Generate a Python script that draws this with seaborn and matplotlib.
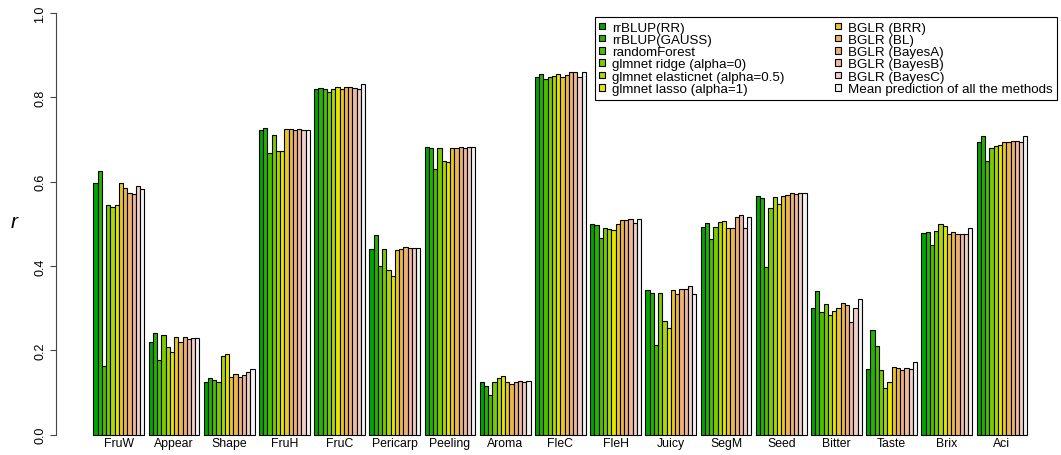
import matplotlib
matplotlib.use("Agg")
import matplotlib.pyplot as plt
from matplotlib.patches import Patch
import pandas as pd
import seaborn as sns

traits = ["FruW", "Appear", "Shape", "FruH", "FruC", "Pericarp", "Peeling", "Aroma",
          "FleC", "FleH", "Juicy", "SegM", "Seed", "Bitter", "Taste", "Brix", "Aci"]

methods = ["rrBLUP(RR)", "rrBLUP(GAUSS)", "randomForest", "glmnet ridge (alpha=0)",
           "glmnet elasticnet (alpha=0.5)", "glmnet lasso (alpha=1)", "BGLR (BRR)",
           "BGLR (BL)", "BGLR (BayesA)", "BGLR (BayesB)", "BGLR (BayesC)",
           "Mean prediction of all the methods"]

# prediction accuracy (r) per method, one value per trait
rrblup_rr     = [0.596, 0.219, 0.124, 0.722, 0.819, 0.440, 0.682, 0.124, 0.849, 0.500, 0.343, 0.492, 0.567, 0.301, 0.156, 0.479, 0.695]
rrblup_gauss  = [0.625, 0.241, 0.135, 0.728, 0.823, 0.474, 0.681, 0.116, 0.855, 0.497, 0.337, 0.501, 0.561, 0.341, 0.249, 0.481, 0.709]
random_forest = [0.162, 0.177, 0.129, 0.667, 0.820, 0.401, 0.630, 0.095, 0.843, 0.467, 0.213, 0.463, 0.398, 0.292, 0.210, 0.450, 0.650]
glmnet_ridge  = [0.545, 0.236, 0.124, 0.711, 0.813, 0.440, 0.679, 0.124, 0.849, 0.490, 0.337, 0.493, 0.538, 0.311, 0.154, 0.483, 0.679]
glmnet_enet   = [0.540, 0.207, 0.187, 0.673, 0.820, 0.391, 0.649, 0.135, 0.851, 0.488, 0.270, 0.505, 0.563, 0.285, 0.110, 0.499, 0.684]
glmnet_lasso  = [0.545, 0.195, 0.191, 0.673, 0.824, 0.376, 0.647, 0.140, 0.855, 0.485, 0.252, 0.507, 0.546, 0.294, 0.124, 0.496, 0.687]
bglr_brr      = [0.597, 0.232, 0.138, 0.725, 0.820, 0.439, 0.680, 0.126, 0.848, 0.500, 0.343, 0.489, 0.565, 0.301, 0.160, 0.477, 0.693]
bglr_bl       = [0.585, 0.221, 0.144, 0.724, 0.824, 0.441, 0.679, 0.121, 0.854, 0.508, 0.334, 0.489, 0.568, 0.313, 0.158, 0.480, 0.695]
bglr_bayesa   = [0.573, 0.231, 0.136, 0.722, 0.825, 0.445, 0.683, 0.126, 0.859, 0.510, 0.345, 0.516, 0.574, 0.307, 0.154, 0.475, 0.696]
bglr_bayesb   = [0.571, 0.227, 0.142, 0.724, 0.821, 0.442, 0.681, 0.127, 0.859, 0.512, 0.346, 0.520, 0.570, 0.267, 0.158, 0.477, 0.696]
bglr_bayesc   = [0.590, 0.230, 0.148, 0.722, 0.820, 0.442, 0.682, 0.126, 0.848, 0.501, 0.353, 0.491, 0.572, 0.300, 0.156, 0.477, 0.695]
mean_pred     = [0.583, 0.230, 0.155, 0.722, 0.832, 0.442, 0.682, 0.127, 0.861, 0.512, 0.334, 0.516, 0.572, 0.321, 0.172, 0.491, 0.709]

series = [rrblup_rr, rrblup_gauss, random_forest, glmnet_ridge, glmnet_enet, glmnet_lasso,
          bglr_brr, bglr_bl, bglr_bayesa, bglr_bayesb, bglr_bayesc, mean_pred]

# terrain-style palette, green -> yellow -> salmon -> white
bar_colors = ["#00A600", "#24B300", "#4CBF00", "#7ACC00", "#ADD900", "#E6E600",
              "#E8C727", "#EAB64E", "#ECB176", "#EEB99F", "#F0CFC8", "#F2F2F2"]

df = pd.DataFrame({
    "trait": [t for _ in methods for t in traits],
    "method": [m for m in methods for _ in traits],
    "r": [v for s in series for v in s],
})

sns.set_style("ticks")
plt.rcParams["font.family"] = ["Liberation Sans", "DejaVu Sans"]
plt.rcParams["text.color"] = "black"
plt.rcParams["xtick.color"] = "black"
plt.rcParams["ytick.color"] = "black"

W, H = 1061, 456
fig = plt.figure(figsize=(W / 100, H / 100), dpi=100)
y0, y1 = 435.7, 14.0
ax = fig.add_axes([56 / W, (H - y0) / H, (1040 - 56) / W, (y0 - y1) / H])

sns.barplot(data=df, x="trait", y="r", hue="method", order=traits, hue_order=methods,
            palette=bar_colors, saturation=1, width=12 / 13, errorbar=None,
            edgecolor="black", linewidth=0.8, legend=False, ax=ax)
for p in ax.patches:
    p.set_clip_on(False)

ax.set_xlim(-1.138, 16.688)
ax.set_ylim(0, 1)
for side in ["top", "right", "bottom"]:
    ax.spines[side].set_visible(False)
ax.spines["left"].set_bounds(0, 1)
ax.spines["left"].set_linewidth(0.8)
ax.spines["left"].set_color("#444444")

ax.set_yticks([0, 0.2, 0.4, 0.6, 0.8, 1.0])
ax.set_yticklabels(["0.0", "0.2", "0.4", "0.6", "0.8", "1.0"], rotation=90, va="center")
ax.tick_params(axis="y", length=4, width=0.8, color="#444444", pad=3, labelsize=9,
               labelcolor="black")
ax.tick_params(axis="x", length=0, pad=2, labelsize=8.8, labelcolor="black")
ax.set_xlabel("")
ax.set_ylabel("")
fig.text(14 / W, 1 - 222 / H, "r", style="italic", fontsize=15, ha="center", va="center")

handles = [Patch(facecolor=c, edgecolor="black", linewidth=0.8) for c in bar_colors]
leg = ax.legend(handles, methods, ncol=2, loc="upper right",
                bbox_to_anchor=(1057 / W, 1 - 18 / H), bbox_transform=fig.transFigure,
                fontsize=9.6, frameon=True, fancybox=False, edgecolor="black", framealpha=1,
                borderpad=0.35, labelspacing=0.02, handlelength=0.45, handleheight=0.38,
                handletextpad=0.5, columnspacing=3.8, borderaxespad=0)
leg.get_frame().set_linewidth(0.8)

fig.savefig("out.png", dpi=100)
